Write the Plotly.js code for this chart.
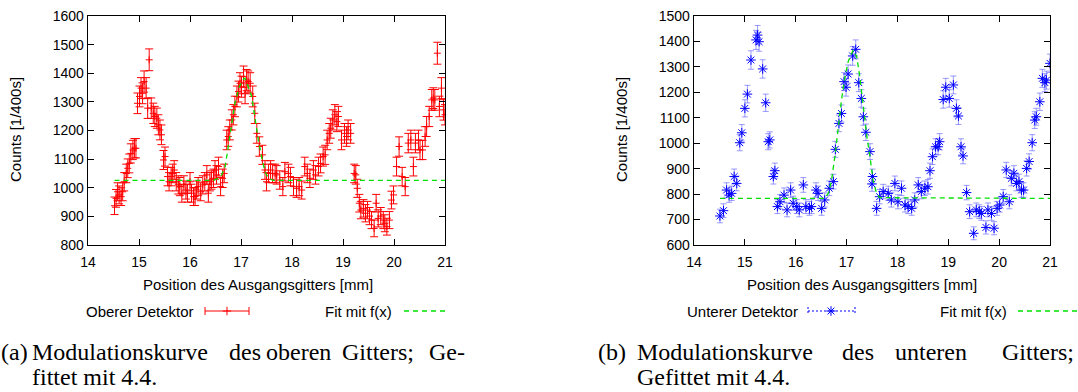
<!DOCTYPE html>
<html>
<head>
<meta charset="utf-8">
<script src="https://cdn.plot.ly/plotly-3.0.1.min.js"></script>
<style>
  html, body { margin: 0; padding: 0; background: #fff; }
  #chart { width: 1078px; height: 392px; }
</style>
</head>
<body>
<div id="chart"></div>
<script>
// Modulation curves of the upper and lower grating (counts per 400 s vs. exit grating position)

// Upper detector: position [mm] and counts [1/400s]
const upperX = [14.52,14.55,14.58,14.61,14.65,14.68,14.71,14.75,14.78,14.81,14.84,14.88,14.91,14.94,14.97,15.01,15.04,15.07,15.10,15.14,
  15.17,15.20,15.24,15.28,15.31,15.35,15.38,15.41,15.44,15.48,15.51,15.56,15.59,15.63,15.66,15.69,15.73,15.77,15.80,15.84,
  15.88,15.92,15.95,16.00,16.03,16.07,16.10,16.13,16.16,16.21,16.25,16.29,16.33,16.36,16.39,16.42,16.46,16.49,16.52,16.56,
  16.60,16.64,16.67,16.72,16.75,16.78,16.82,16.85,16.88,16.92,16.95,16.98,17.01,17.05,17.08,17.11,17.14,17.18,17.23,17.27,
  17.31,17.36,17.42,17.47,17.50,17.54,17.58,17.62,17.67,17.70,17.76,17.82,17.86,17.93,17.97,18.03,18.09,18.14,18.19,18.25,
  18.30,18.35,18.42,18.46,18.52,18.56,18.61,18.65,18.69,18.73,18.76,18.80,18.84,18.88,18.91,18.97,19.03,19.07,19.10,19.15,
  19.22,19.25,19.28,19.32,19.35,19.40,19.44,19.48,19.52,19.56,19.61,19.65,19.69,19.74,19.79,19.82,19.86,19.91,19.95,19.99,
  20.05,20.10,20.16,20.22,20.28,20.33,20.38,20.42,20.48,20.51,20.56,20.61,20.64,20.69,20.74,20.77,20.80,20.85,20.89,20.93,
  20.97,21.00];
const upperY = [937,963,986,975,969,986,1021,1050,1068,1085,1120,1132,1138,1138,1295,1319,1348,1330,1371,1348,
  1278,1447,1278,1260,1249,1243,1220,1202,1185,1097,1109,1039,1021,1039,1050,1062,1021,1010,1004,981,
  1010,992,981,1021,981,969,969,992,1004,986,1010,1021,1045,981,1021,1027,1033,1062,1045,1074,
  1004,1033,1050,1167,1179,1202,1237,1255,1284,1319,1336,1365,1353,1388,1330,1376,1371,1365,1319,1260,
  1190,1144,1115,1062,1021,1050,1062,1050,1050,1045,1027,1004,1056,1050,1039,1004,998,1004,992,1074,
  1050,1033,1062,1045,1074,1085,1109,1115,1167,1190,1208,1237,1255,1231,1249,1167,1190,1179,1202,1190,
  1050,1045,998,946,922,928,911,922,901,887,858,946,893,901,887,876,864,887,957,975,
  1074,1144,1039,1004,1156,1167,1074,1156,1167,1132,1132,1179,1214,1249,1307,1313,1307,1470,1284,1348,
  1272,1255];

// Fit f(x) to the upper detector
const fitUpperX = [14.52,16.46,16.56,16.62,16.69,16.75,16.82,16.88,16.97,17.05,17.08,17.14,17.21,17.27,17.34,17.41,17.47,17.54,17.63,21.00];
const fitUpperY = [1026,1026,1033,1045,1074,1144,1225,1295,1354,1380,1383,1354,1319,1249,1167,1103,1056,1033,1026,1026];

// Lower detector: position [mm] and counts [1/400s]
const lowerX = [14.51,14.58,14.64,14.69,14.74,14.79,14.84,14.90,14.94,15.00,15.05,15.12,15.22,15.25,15.28,15.35,15.41,15.46,15.49,15.56,
  15.59,15.64,15.69,15.77,15.83,15.90,15.95,16.02,16.07,16.15,16.20,16.27,16.31,16.40,16.44,16.51,16.57,16.66,16.74,16.78,
  16.85,16.90,16.95,16.99,17.03,17.12,17.18,17.24,17.29,17.33,17.38,17.46,17.50,17.51,17.59,17.65,17.72,17.82,17.88,17.95,
  18.01,18.08,18.15,18.21,18.28,18.34,18.41,18.47,18.54,18.60,18.64,18.69,18.75,18.80,18.83,18.90,18.95,19.02,19.10,19.16,
  19.20,19.25,19.29,19.36,19.42,19.50,19.55,19.61,19.65,19.74,19.78,19.85,19.90,19.96,20.01,20.08,20.14,20.20,20.24,20.29,
  20.34,20.39,20.44,20.48,20.54,20.59,20.65,20.70,20.73,20.80,20.85,20.90,20.93,21.00];
const lowerY = [714,735,816,796,803,869,842,1002,1041,1137,1193,1327,1406,1425,1399,1292,1159,1006,1013,869,
  892,751,770,796,738,816,764,751,738,836,751,744,751,816,803,744,777,823,849,976,
  1078,1117,1242,1220,1272,1343,1369,1238,1176,1104,1043,967,840,869,744,790,810,803,777,842,
  770,823,757,751,744,777,836,810,823,829,892,947,986,986,1006,1172,1220,1176,1229,1137,
  1107,986,950,806,731,646,738,731,724,669,738,724,666,744,757,790,895,770,862,882,
  842,849,816,816,901,928,1002,1091,1104,1163,1255,1238,1248,1314];

// Fit f(x) to the lower detector
const fitLowerX = [14.51,16.57,16.64,16.70,16.77,16.84,16.90,16.97,17.03,17.13,17.20,17.26,17.33,17.39,17.46,17.52,17.59,17.65,21.00];
const fitLowerY = [783,783,803,849,947,1065,1170,1262,1320,1366,1340,1262,1144,1039,947,855,803,786,783];

// Axis settings
const xRange = [14, 21];
const upperRange = [800, 1600];
const lowerRange = [600, 1500];
const xTitle = 'Position des Ausgangsgitters [mm]';
const yTitle = 'Counts [1/400s]';

// Legend entries and captions
const upperName = 'Oberer Detektor';
const lowerName = 'Unterer Detektor';
const fitName = 'Fit mit f(x)';
const captionA = ['(a)', ['Modulationskurve', 'des', 'oberen', 'Gitters;', 'Ge-'], 'fittet mit 4.4.'];
const captionB = ['(b)', ['Modulationskurve', 'des', 'unteren', 'Gitters;'], 'Gefittet mit 4.4.'];

// ---- drawing ----
const W = 1078, H = 392;
const PX = v => v / W;          // pixel column -> paper x
const PY = v => 1 - v / H;      // pixel row -> paper y

const RED = '#ff0000', BLUE = '#0000ff', GREEN = '#00e000';
const sans = 'Liberation Sans, Arial, sans-serif';
const serif = 'Liberation Serif, Times New Roman, serif';

function xAxis(domain, anchor) {
  return {
    domain: domain, range: xRange, dtick: 1, tick0: 14, anchor: anchor,
    ticks: 'inside', ticklen: 6, tickwidth: 1, tickcolor: '#000',
    showline: true, linecolor: '#000', linewidth: 1.3, mirror: 'ticks',
    showgrid: false, zeroline: false, ticklabelstandoff: 4,
    tickfont: { family: sans, size: 14, color: '#000' }
  };
}
function yAxis(domain, range, anchor) {
  return {
    domain: domain, range: range, dtick: 100, anchor: anchor,
    ticks: 'inside', ticklen: 6, tickwidth: 1, tickcolor: '#000',
    showline: true, linecolor: '#000', linewidth: 1.3, mirror: 'ticks',
    showgrid: false, zeroline: false,
    tickfont: { family: sans, size: 14, color: '#000' }
  };
}

const yDom = [PY(245), PY(16)];

const traces = [
  {
    x: upperX, y: upperY, xaxis: 'x', yaxis: 'y', type: 'scatter', mode: 'markers',
    name: upperName,
    marker: { symbol: 'cross-thin-open', size: 5, color: RED, line: { color: RED, width: 1 } },
    error_y: { type: 'sqrt', visible: true, color: RED, thickness: 1, width: 4 }
  },
  {
    x: fitUpperX, y: fitUpperY, xaxis: 'x', yaxis: 'y', type: 'scatter', mode: 'lines',
    name: fitName, line: { color: GREEN, width: 1.3, dash: '5px,4px' }
  },
  {
    x: lowerX, y: lowerY, xaxis: 'x2', yaxis: 'y2', type: 'scatter', mode: 'markers',
    name: lowerName,
    marker: { symbol: 'asterisk-open', size: 8, color: BLUE, line: { color: BLUE, width: 1 } },
    error_y: { type: 'sqrt', visible: true, color: 'rgba(60,60,255,0.5)', thickness: 1, width: 3 }
  },
  {
    x: fitLowerX, y: fitLowerY, xaxis: 'x2', yaxis: 'y2', type: 'scatter', mode: 'lines',
    name: fitName, line: { color: GREEN, width: 1.3, dash: '5px,4px' }
  },
  // legend key symbols, placed on a pixel-scaled overlay axis
  {
    x: [227], y: [311], xaxis: 'x3', yaxis: 'y3', type: 'scatter', mode: 'markers', hoverinfo: 'skip',
    marker: { symbol: 'cross-thin-open', size: 6, color: RED, line: { color: RED, width: 1 } }
  },
  {
    x: [831], y: [311], xaxis: 'x3', yaxis: 'y3', type: 'scatter', mode: 'markers', hoverinfo: 'skip',
    marker: { symbol: 'asterisk-open', size: 8, color: BLUE, line: { color: BLUE, width: 1 } }
  }
];

const shapes = [];
function seg(x0, y0, x1, y1, color, dash, width) {
  shapes.push({ type: 'line', xref: 'paper', yref: 'paper', x0: PX(x0), y0: PY(y0), x1: PX(x1), y1: PY(y1),
    line: { color: color, width: width || 1, dash: dash || 'solid' } });
}
// key (a): horizontal error bar
seg(205, 311, 249, 311, RED);
seg(205, 307, 205, 315, RED);
seg(249, 307, 249, 315, RED);
seg(404, 311, 447, 311, GREEN, '5px,4px', 1.3);
// key (b): dotted error bar
seg(808, 311, 855, 311, BLUE, '2px,2px');
seg(808, 307, 808, 315, BLUE, '2px,2px');
seg(855, 307, 855, 315, BLUE, '2px,2px');
seg(1018, 311, 1078, 311, GREEN, '5px,4px', 1.3);

const annotations = [];
function text(t, x, y, opts) {
  annotations.push(Object.assign({
    text: t, xref: 'paper', yref: 'paper', x: PX(x), y: PY(y), showarrow: false,
    xanchor: 'left', yanchor: 'middle', font: { family: sans, size: 15, color: '#000' }
  }, opts || {}));
}
// axis titles
text(xTitle, 258, 284, { xanchor: 'center' });
text(xTitle, 862, 284, { xanchor: 'center' });
text(yTitle, 15, 130, { xanchor: 'center', textangle: -90 });
text(yTitle, 621, 130, { xanchor: 'center', textangle: -90 });
// legend labels
text(upperName, 196, 311, { xanchor: 'right' });
text(fitName, 394, 311, { xanchor: 'right' });
text(lowerName, 800, 311, { xanchor: 'right' });
text(fitName, 1009, 311, { xanchor: 'right' });
// captions (justified first lines, word by word)
const capFont = { family: serif, size: 24, color: '#000' };
text(captionA[0], -1, 352, { font: capFont });
[30, 227, 264, 340, 427].forEach((x, i) => text(captionA[1][i], x, 352, { font: capFont }));
text(captionA[2], 30, 377, { font: capFont });
text(captionB[0], 596, 352, { font: capFont });
[635, 840, 893, 1000].forEach((x, i) => text(captionB[1][i], x, 352, { font: capFont }));
text(captionB[2], 635, 377, { font: capFont });

const layout = {
  width: W, height: H,
  margin: { l: 0, r: 0, t: 0, b: 0 },
  paper_bgcolor: '#fff', plot_bgcolor: 'rgba(0,0,0,0)',
  showlegend: false,
  xaxis: xAxis([PX(88), PX(445)], 'y'),
  yaxis: yAxis(yDom, upperRange, 'x'),
  xaxis2: xAxis([PX(694), PX(1050)], 'y2'),
  yaxis2: yAxis(yDom, lowerRange, 'x2'),
  xaxis3: { domain: [0, 1], range: [0, W], visible: false, anchor: 'y3' },
  yaxis3: { domain: [0, 1], range: [H, 0], visible: false, anchor: 'x3' },
  shapes: shapes,
  annotations: annotations
};

Plotly.newPlot('chart', traces, layout, { staticPlot: true, displayModeBar: false });
</script>
</body>
</html>
